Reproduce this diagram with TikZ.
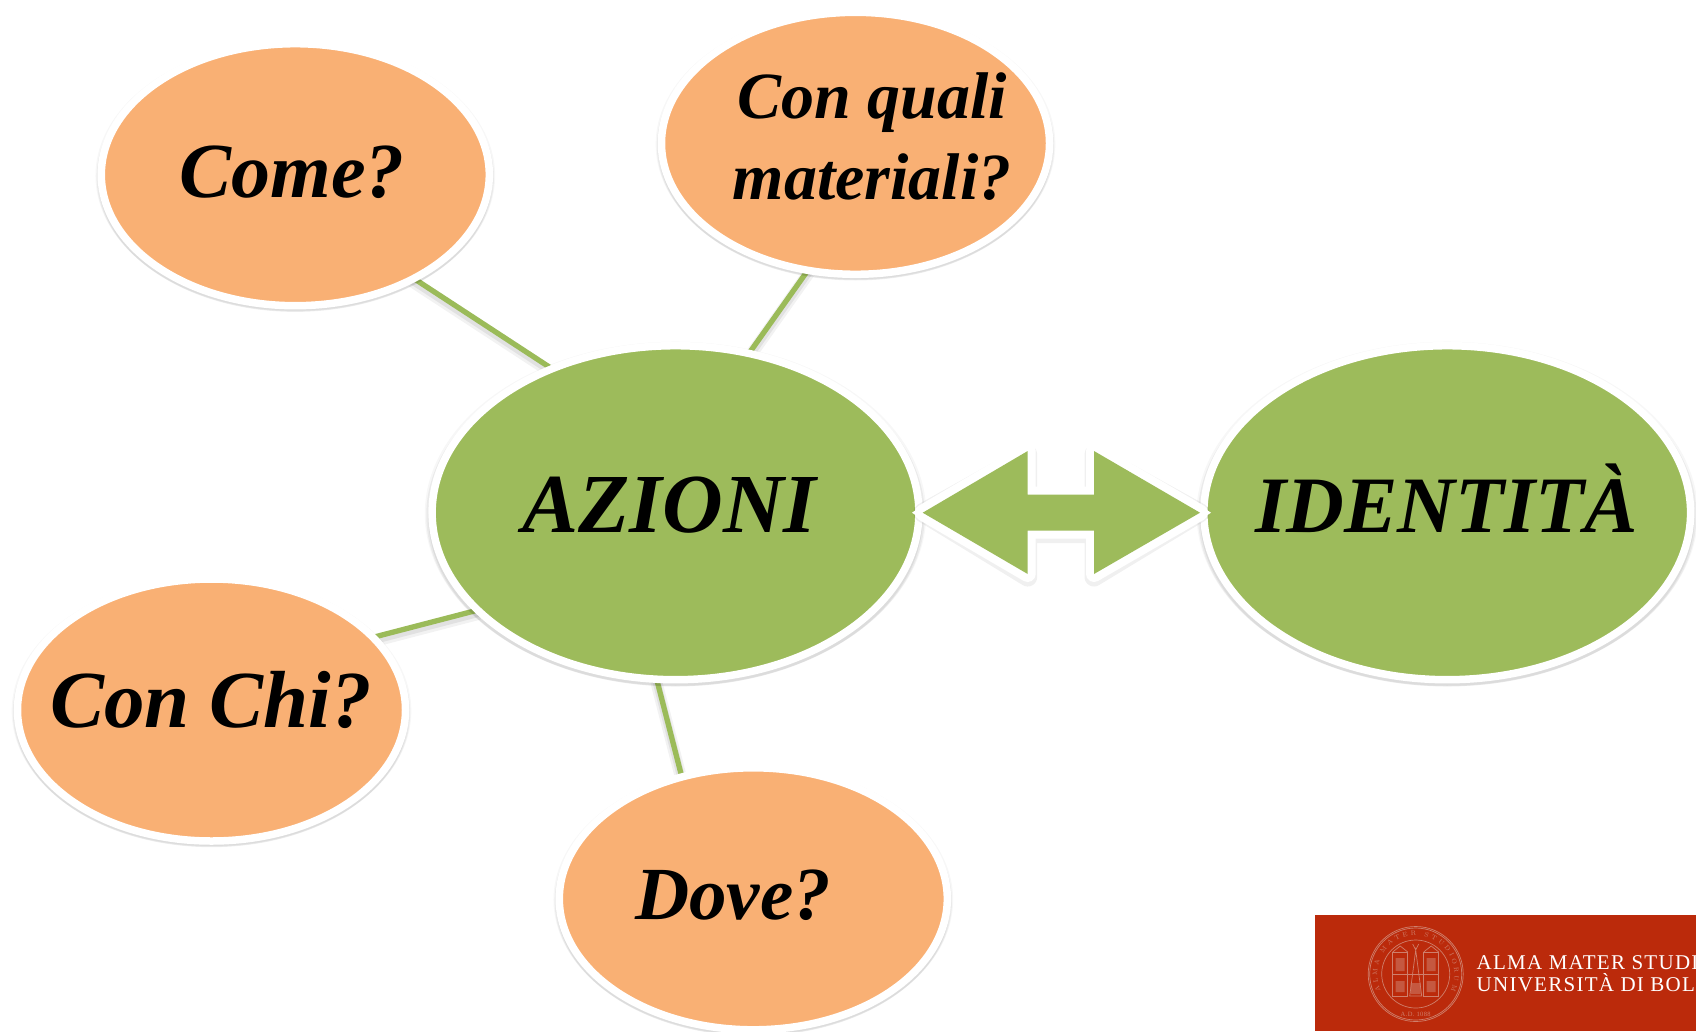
\documentclass[tikz,border=0pt]{standalone}
\usepackage{fontspec}
\usetikzlibrary{shapes.geometric,shadows,decorations.text}
\pgfdeclarelayer{under}
\pgfsetlayers{under,main}
\definecolor{grn}{HTML}{9DBB5B}
\definecolor{org}{HTML}{F9B074}
\definecolor{lnk}{HTML}{9BBB59}
\definecolor{almared}{HTML}{BB2A0B}
\definecolor{seal}{HTML}{CF7F6C}
\newfontfamily\logofont[LetterSpace=6]{Liberation Serif}
\newfontfamily\handfont{Liberation Serif}
\tikzset{
  softshadow/.style={
    drop shadow={shadow xshift=0pt,shadow yshift=-1pt,shadow scale=1.03,fill=black,opacity=.03},
    drop shadow={shadow xshift=0pt,shadow yshift=-2.5pt,shadow scale=1.024,fill=black,opacity=.05},
    drop shadow={shadow xshift=0pt,shadow yshift=-4pt,shadow scale=1.016,fill=black,opacity=.06}},
  bubble/.style={ellipse,draw=white,line width=7.5pt,inner sep=0pt,softshadow},
  azbub/.style={bubble,fill=grn,minimum width=486.8pt,minimum height=334pt},
  qbub/.style={bubble,fill=org,minimum width=388pt,minimum height=262pt},
  hand/.style={inner sep=0pt,align=center,text=black,font=\handfont\bfseries\itshape\fontsize{#1}{81}\selectfont},
  spoke/.style={draw=lnk,line width=5.3pt,shorten <=-6pt,shorten >=-6pt,
    preaction={draw=black,opacity=.07,line width=8pt,transform canvas={yshift=-3pt}},
    preaction={draw=black,opacity=.05,line width=12pt,transform canvas={yshift=-4pt}}},
  sealline/.style={draw=seal,line width=.7pt},
}
\begin{document}
\begin{tikzpicture}[x=1pt,y=-1pt]
\useasboundingbox (0,0) rectangle (1696,1031);
% ellipses
\node[qbub] (come) at (295.3,174.7) {};
\node[qbub] (quali) at (855.5,143.3) {};
\node[qbub] (chi) at (211.5,710) {};
\node[qbub] (dove) at (753.3,898.8) {};
\node[azbub] (azioni) at (675.5,512.7) {};
\node[azbub] (identita) at (1447.2,512.7) {};
% connectors, under the ellipses
\begin{pgfonlayer}{under}
\draw[spoke] (come.-41) -- (azioni.131.5);
\draw[spoke] (quali.-111.5) -- (azioni.65.5);
\draw[spoke] (chi.24) -- (azioni.206.5);
\draw[spoke] (dove.120) -- (azioni.264.6);
\end{pgfonlayer}
% block arrow
\coordinate (lt) at (922.7,512.7);
\coordinate (rt) at (1200,512.7);
\begin{scope}[yshift=-3pt,opacity=.06,line join=round]
\draw[black,line width=19pt] (lt) -- (1027.7,451) -- (1027.7,494.7) -- (1094,494.7) -- (1094,451) -- (rt) -- (1094,574) -- (1094,530.7) -- (1027.7,530.7) -- (1027.7,574) -- cycle;
\end{scope}
\draw[white,fill=white,line width=16pt,line join=round] (lt) -- (1027.7,451) -- (1027.7,494.7) -- (1094,494.7) -- (1094,451) -- (rt) -- (1094,574) -- (1094,530.7) -- (1027.7,530.7) -- (1027.7,574) -- cycle;
\fill[white] (912,512.7) -- (930,500) -- (930,525) -- cycle (1211,512.7) -- (1192,500) -- (1192,525) -- cycle;
\fill[grn] (lt) -- (1027.7,451) -- (1027.7,494.7) -- (1094,494.7) -- (1094,451) -- (rt) -- (1094,574) -- (1094,530.7) -- (1027.7,530.7) -- (1027.7,574) -- cycle;
% labels
\node[hand=78,anchor=base] (tcome) at (292,197) {Come?};
\node[hand=66] (tquali) at (872,137) {Con quali\\materiali?};
\node[hand=81,anchor=base] (tchi) at (211,727) {Con Chi?};
\node[hand=75,anchor=base] (tdove) at (733,919) {Dove?};
\node[hand=84,anchor=base] (tazioni) at (669.5,532) {AZIONI};
\node[hand=80,anchor=base] (tidentita) at (1446.7,532) {IDENTITÀ};
% logo
\begin{scope}
\clip (0,0) rectangle (1696,1031);
\fill[almared] (1315,915) rectangle (1696,1031);
\node[anchor=base west,inner sep=0pt,text=white,font=\logofont\fontsize{21}{21}\selectfont] (logoa) at (1476.5,969) {ALMA MATER STUDI};
\node[anchor=base west,inner sep=0pt,text=white,font=\logofont\fontsize{21}{21}\selectfont] (logob) at (1476.5,991.5) {UNIVERSITÀ DI BOL};
\end{scope}
\begin{scope}[shift={(1415.7,974)},y=1pt]
\draw[sealline] (0,0) circle[radius=47.5];
\draw[sealline] (0,0) circle[radius=46];
\draw[sealline] (0,0) circle[radius=34];
\path[postaction={decorate},decoration={text along path,text align={fit to path},
  text={|\fontsize{6.5}{6.5}\selectfont\color{seal}|ALMA MATER STUDIORUM}}]
  (205:38.5) arc[start angle=205,end angle=-25,radius=38.5];
\node[inner sep=0pt,text=seal,font=\logofont\fontsize{6.5}{6.5}\selectfont] (sealyear) at (0,-40) {A.D. 1088};
\draw[sealline] (-23,22) rectangle (-8,-22) (8,22) rectangle (23,-22) (-23,0) -- (23,0);
\draw[sealline] (-23,22) -- (-15.5,28) -- (-8,22) (8,22) -- (15.5,28) -- (23,22);
\draw[sealline] (-6,-22) -- (0,24) -- (6,-22) -- cycle (-3,30) -- (0,24) -- (3,30);
\fill[seal,opacity=.55] (-20,3) rectangle (-11,16) (11,3) rectangle (20,16) (-20,-18) rectangle (-11,-7) (-5,-20) rectangle (5,-9) (11,-18) rectangle (20,-7);
\end{scope}
\end{tikzpicture}
\end{document}
